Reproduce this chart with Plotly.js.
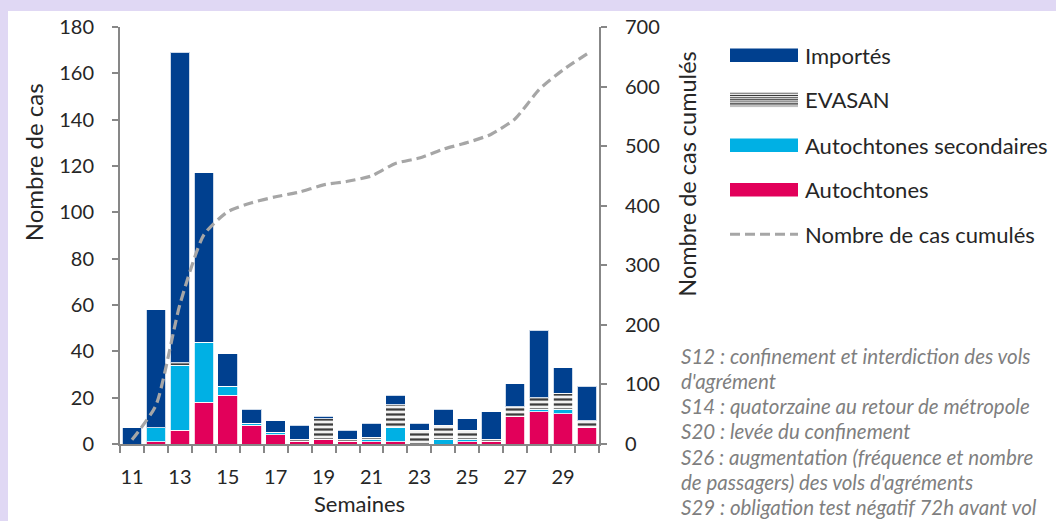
<!DOCTYPE html>
<html>
<head>
<meta charset="utf-8">
<script src="https://cdn.plot.ly/plotly-3.0.1.min.js"></script>
<style>
  html, body { margin: 0; padding: 0; background: #e0d8f4; width: 1056px; height: 521px; overflow: hidden; }
  #chart { position: absolute; left: 8px; top: 11px; width: 1048px; height: 510px; background: #ffffff; }
</style>
</head>
<body>
<div id="chart"></div>
<script>
// Semaines
const weeks = [11,12,13,14,15,16,17,18,19,20,21,22,23,24,25,26,27,28,29,30];
const tickWeeks = [11,13,15,17,19,21,23,25,27,29];
const tickLabels = ["11","13","15","17","19","21","23","25","27","29"];

// Cas par semaine
const autochtones  = [0,1,6,18,21,8,4,1,2,1,1,1,0,0,1,1,12,14,13,7];
const secondaires  = [0,6,28,26,4,1,1,0,0,0,1,6,0,2,1,0,0,1,2,0];
const evasan       = [0,0,1,0,0,0,0,1,9,1,1,10,6,6,4,1,4,5,7,3];
const importes     = [7,51,134,73,14,6,5,6,1,4,6,4,3,7,5,12,10,29,11,15];
const cumules      = [7,65,234,351,390,405,415,423,435,441,450,471,480,495,506,520,546,595,628,655];

const leftTicks = [0,20,40,60,80,100,120,140,160,180];
const rightTicks = [0,100,200,300,400,500,600,700];

const seriesNames = ["Importés", "EVASAN", "Autochtones secondaires", "Autochtones", "Nombre de cas cumulés"];
const notes = [
  "S12 : confinement et interdiction des vols",
  "d'agrément",
  "S14 : quatorzaine au retour de métropole",
  "S20 : levée du confinement",
  "S26 : augmentation (fréquence et nombre",
  "de passagers) des vols d'agréments",
  "S29 : obligation test négatif 72h avant vol"
];

const FONT = "Lato, 'Open Sans', sans-serif";
const TXT = "#262626";
const COL_IMP = "#00408f", COL_SEC = "#00b0e4", COL_AUT = "#e2005a", COL_CUM = "#a6a6a6";
const barLine = {color: "rgba(255,255,255,0.8)", width: 1};

const traces = [
  {type: "bar", name: seriesNames[3], x: weeks, y: autochtones,
   marker: {color: COL_AUT, line: barLine}},
  {type: "bar", name: seriesNames[2], x: weeks, y: secondaires,
   marker: {color: COL_SEC, line: barLine}},
  {type: "bar", name: seriesNames[1], x: weeks, y: evasan,
   marker: {color: "#ffffff", line: barLine,
            pattern: {shape: "-", fgcolor: "#3c3c3c", bgcolor: "#f2f2f2", size: 5, solidity: 0.45}}},
  {type: "bar", name: seriesNames[0], x: weeks, y: importes,
   marker: {color: COL_IMP, line: barLine}},
  {type: "scatter", mode: "lines", name: seriesNames[4], x: weeks, y: cumules, yaxis: "y2",
   line: {color: COL_CUM, width: 3.2, dash: "10px,5px", shape: "spline", smoothing: 0.6}}
];

// plot area in page pixels -> paper coordinates (for the drawn legend and notes)
const PX0 = 120, PX1 = 599, PY0 = 27.3, PY1 = 444.3;
const px = v => (v - PX0) / (PX1 - PX0);
const py = v => (PY1 - v) / (PY1 - PY0);

const shapes = [];
const legAnn = [];
const symX0 = 730, symX1 = 798, textX = 803;
const rowY = [55.5, 100, 145.5, 190, 234.5];
// Importés, secondaires, autochtones : plain blocks
[[0, COL_IMP], [2, COL_SEC], [3, COL_AUT]].forEach(([i, c]) => {
  shapes.push({type: "rect", xref: "paper", yref: "paper",
    x0: px(symX0), x1: px(symX1), y0: py(rowY[i] - 6.7), y1: py(rowY[i] + 6.7),
    fillcolor: c, line: {width: 0}});
});
// EVASAN : striped block
shapes.push({type: "rect", xref: "paper", yref: "paper",
  x0: px(symX0), x1: px(symX1), y0: py(rowY[1] - 7.5), y1: py(rowY[1] + 7.5),
  fillcolor: "#e6e6e6", line: {width: 0}});
const stripeCols = ["#8c8c8c", "#3a3a3a", "#6e6e6e", "#2e2e2e", "#7a7a7a", "#3a3a3a", "#9a9a9a"];
for (let k = 0; k < 7; k++) {
  const yy = rowY[1] - 6.3 + k * 2.1;
  shapes.push({type: "line", xref: "paper", yref: "paper",
    x0: px(symX0), x1: px(symX1), y0: py(yy), y1: py(yy),
    line: {color: stripeCols[k], width: 1.1}});
}
// cumulative : dashed line
shapes.push({type: "line", xref: "paper", yref: "paper",
  x0: px(symX0), x1: px(symX1), y0: py(rowY[4]), y1: py(rowY[4]),
  line: {color: COL_CUM, width: 3, dash: "10px,5px"}});
seriesNames.forEach((n, i) => {
  legAnn.push({xref: "paper", yref: "paper", x: px(textX), y: py(rowY[i]), text: n,
    xanchor: "left", yanchor: "middle", showarrow: false,
    font: {family: FONT, size: 22, color: TXT}});
});

// notes, one annotation per line
const noteAnn = notes.map((t, i) => ({
  xref: "paper", yref: "paper", x: px(679), y: py(356 + i * 25.2), xanchor: "left", yanchor: "middle",
  align: "left", showarrow: false, text: t,
  font: {family: FONT, size: 20.5, color: "#7f7f7f", style: "italic"}
}));

const axisColor = "#878787";
const layout = {
  width: 1048, height: 510,
  margin: {l: 112, r: 457, t: 16.3, b: 76.7},
  paper_bgcolor: "#ffffff", plot_bgcolor: "#ffffff",
  font: {family: FONT, size: 20, color: TXT},
  barmode: "stack", bargap: 0.18,
  showlegend: false,
  xaxis: {
    range: [10.5, 30.5], tickmode: "array", tickvals: tickWeeks, ticktext: tickLabels,
    ticks: "", showline: true, linecolor: axisColor, linewidth: 2, showgrid: false, zeroline: false,
    ticklabelstandoff: 14,
    minor: {ticks: "outside", tick0: 10.5, dtick: 1, ticklen: 7, tickcolor: axisColor, tickwidth: 2, showgrid: false},
    tickfont: {family: FONT, size: 20, color: TXT},
    title: {text: "Semaines", font: {family: FONT, size: 22, color: TXT}, standoff: 10}
  },
  yaxis: {
    range: [0, 180], tickmode: "array", tickvals: leftTicks,
    ticks: "outside", ticklen: 6, tickwidth: 2, tickcolor: axisColor,
    showline: true, linecolor: axisColor, linewidth: 2, showgrid: false, zeroline: false,
    ticklabelstandoff: 14,
    tickfont: {family: FONT, size: 20, color: TXT}
  },
  yaxis2: {
    range: [0, 700], tickmode: "array", tickvals: rightTicks, overlaying: "y", side: "right",
    ticks: "outside", ticklen: 6, tickwidth: 2, tickcolor: axisColor,
    showline: true, linecolor: axisColor, linewidth: 2, showgrid: false, zeroline: false,
    ticklabelstandoff: 14,
    tickfont: {family: FONT, size: 20, color: TXT}
  },
  shapes: shapes,
  annotations: [
    {xref: "paper", yref: "paper", x: px(33), y: py(162.5), text: "Nombre de cas", textangle: -90,
     showarrow: false, xanchor: "center", yanchor: "middle",
     font: {family: FONT, size: 24, color: TXT}},
    {xref: "paper", yref: "paper", x: px(687), y: py(175), text: "Nombre de cas cumulés", textangle: -90,
     showarrow: false, xanchor: "center", yanchor: "middle",
     font: {family: FONT, size: 23.5, color: TXT}}
  ].concat(legAnn, noteAnn)
};

Plotly.newPlot("chart", traces, layout, {displayModeBar: false, staticPlot: true});
</script>
</body>
</html>
